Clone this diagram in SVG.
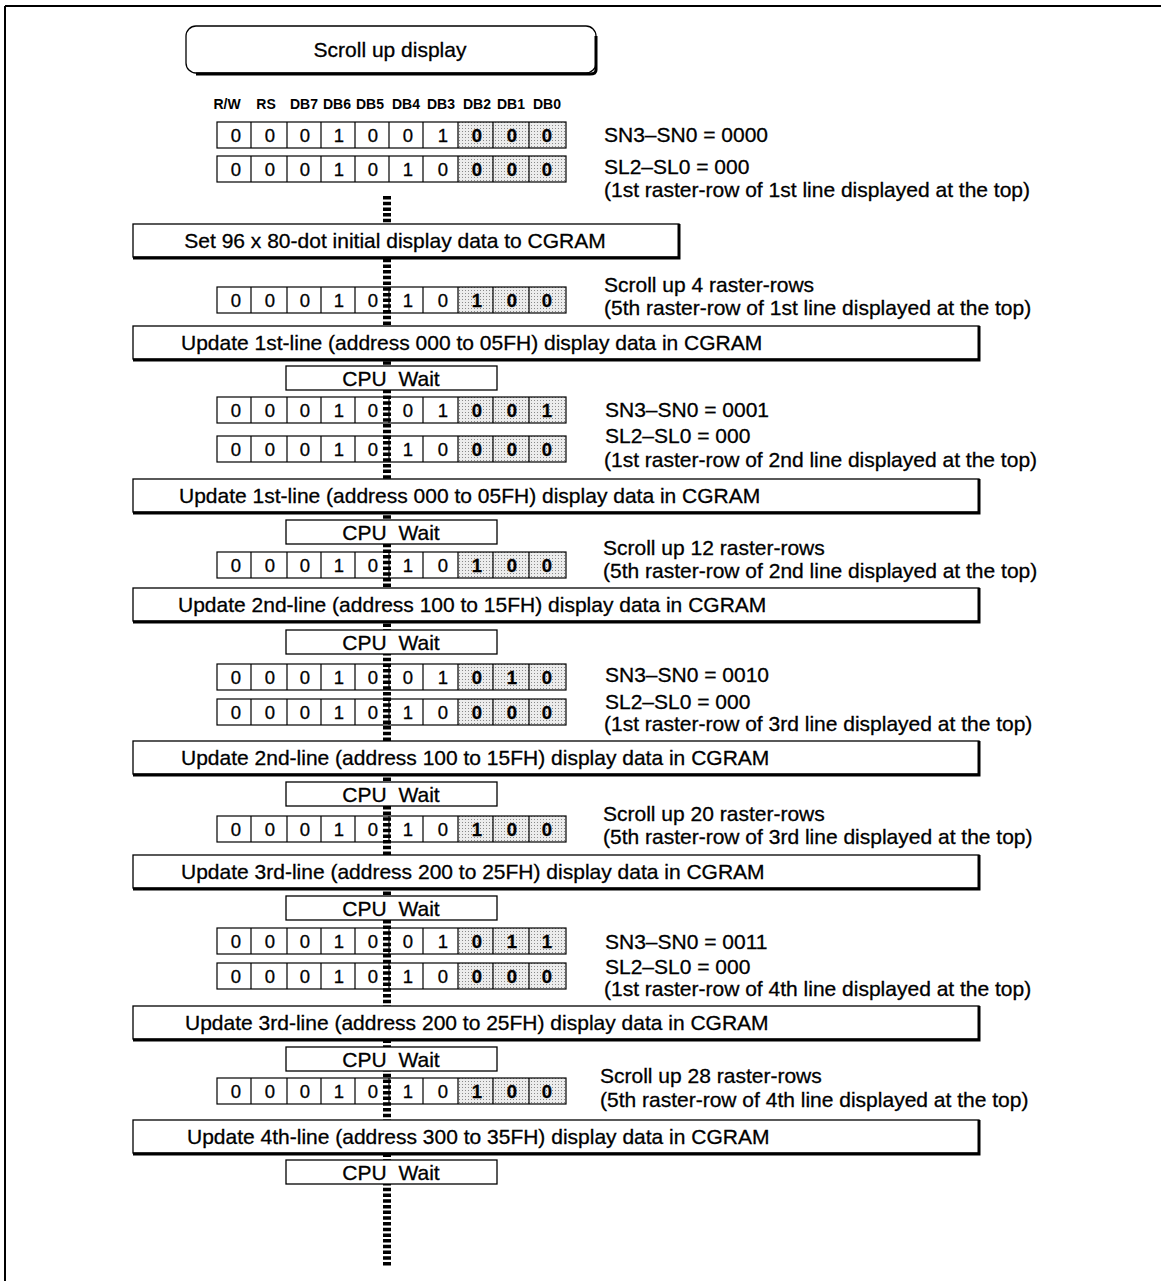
<svg xmlns="http://www.w3.org/2000/svg" width="1161" height="1281" viewBox="0 0 1161 1281">
<style>
text{font-family:"Liberation Sans",Arial,sans-serif;fill:#000;stroke:#000;stroke-width:0.3}
.t{font-size:21px}
.r{font-size:21px}
.h{font-size:14px;font-weight:bold;text-anchor:middle;stroke-width:0}
.d{font-size:18.5px;text-anchor:middle}
.b{font-size:18.5px;text-anchor:middle;font-weight:bold}
.c{font-size:21px;text-anchor:middle;word-spacing:6px}
.box{fill:#fff;stroke:#000;stroke-width:1.3}
.sh{stroke:#000;stroke-width:3;fill:none}
.gl{stroke:#000;stroke-width:1.2;fill:none}
</style>
<defs>
<pattern id="dots" width="3" height="3" patternUnits="userSpaceOnUse">
<rect width="3" height="3" fill="#ececec"/>
<rect width="1" height="1" fill="#8a8a8a"/>
</pattern>
<g id="grid">
<rect x="458" y="0" width="108" height="26" fill="url(#dots)"/>
<rect x="217" y="0" width="349" height="26" class="gl"/>
<path class="gl" d="M251 0V26M287 0V26M321 0V26M355 0V26M389 0V26M423 0V26M458 0V26M493 0V26M529 0V26"/>
</g>
</defs>

<g id="frame">
<path d="M5 6H1161M5 6V1281" stroke="#000" stroke-width="2" fill="none"/>
</g>

<g id="start">
<rect x="186" y="26" width="410" height="47" rx="10" class="box"/>
<path d="M596 36V70Q596 74 590 74H196" class="sh"/>
<text x="390" y="57" class="t" text-anchor="middle">Scroll up display</text>
</g>

<g id="header">
<text x="227" y="109" class="h">R/W</text>
<text x="266" y="109" class="h">RS</text>
<text x="304" y="109" class="h">DB7</text>
<text x="337" y="109" class="h">DB6</text>
<text x="370" y="109" class="h">DB5</text>
<text x="406" y="109" class="h">DB4</text>
<text x="441" y="109" class="h">DB3</text>
<text x="477" y="109" class="h">DB2</text>
<text x="511" y="109" class="h">DB1</text>
<text x="547" y="109" class="h">DB0</text>
</g>

<g id="row1" transform="translate(0,122)"><use href="#grid"/>
<text x="236" y="20" class="d">0</text><text x="270" y="20" class="d">0</text><text x="305" y="20" class="d">0</text><text x="339" y="20" class="d">1</text><text x="373" y="20" class="d">0</text><text x="408" y="20" class="d">0</text><text x="443" y="20" class="d">1</text><text x="477" y="20" class="b">0</text><text x="512" y="20" class="b">0</text><text x="547" y="20" class="b">0</text></g>
<g id="row2" transform="translate(0,156)"><use href="#grid"/>
<text x="236" y="20" class="d">0</text><text x="270" y="20" class="d">0</text><text x="305" y="20" class="d">0</text><text x="339" y="20" class="d">1</text><text x="373" y="20" class="d">0</text><text x="408" y="20" class="d">1</text><text x="443" y="20" class="d">0</text><text x="477" y="20" class="b">0</text><text x="512" y="20" class="b">0</text><text x="547" y="20" class="b">0</text></g>
<g id="row3" transform="translate(0,287)"><use href="#grid"/>
<text x="236" y="20" class="d">0</text><text x="270" y="20" class="d">0</text><text x="305" y="20" class="d">0</text><text x="339" y="20" class="d">1</text><text x="373" y="20" class="d">0</text><text x="408" y="20" class="d">1</text><text x="443" y="20" class="d">0</text><text x="477" y="20" class="b">1</text><text x="512" y="20" class="b">0</text><text x="547" y="20" class="b">0</text></g>
<g id="row4" transform="translate(0,397)"><use href="#grid"/>
<text x="236" y="20" class="d">0</text><text x="270" y="20" class="d">0</text><text x="305" y="20" class="d">0</text><text x="339" y="20" class="d">1</text><text x="373" y="20" class="d">0</text><text x="408" y="20" class="d">0</text><text x="443" y="20" class="d">1</text><text x="477" y="20" class="b">0</text><text x="512" y="20" class="b">0</text><text x="547" y="20" class="b">1</text></g>
<g id="row5" transform="translate(0,436)"><use href="#grid"/>
<text x="236" y="20" class="d">0</text><text x="270" y="20" class="d">0</text><text x="305" y="20" class="d">0</text><text x="339" y="20" class="d">1</text><text x="373" y="20" class="d">0</text><text x="408" y="20" class="d">1</text><text x="443" y="20" class="d">0</text><text x="477" y="20" class="b">0</text><text x="512" y="20" class="b">0</text><text x="547" y="20" class="b">0</text></g>
<g id="row6" transform="translate(0,552)"><use href="#grid"/>
<text x="236" y="20" class="d">0</text><text x="270" y="20" class="d">0</text><text x="305" y="20" class="d">0</text><text x="339" y="20" class="d">1</text><text x="373" y="20" class="d">0</text><text x="408" y="20" class="d">1</text><text x="443" y="20" class="d">0</text><text x="477" y="20" class="b">1</text><text x="512" y="20" class="b">0</text><text x="547" y="20" class="b">0</text></g>
<g id="row7" transform="translate(0,664)"><use href="#grid"/>
<text x="236" y="20" class="d">0</text><text x="270" y="20" class="d">0</text><text x="305" y="20" class="d">0</text><text x="339" y="20" class="d">1</text><text x="373" y="20" class="d">0</text><text x="408" y="20" class="d">0</text><text x="443" y="20" class="d">1</text><text x="477" y="20" class="b">0</text><text x="512" y="20" class="b">1</text><text x="547" y="20" class="b">0</text></g>
<g id="row8" transform="translate(0,699)"><use href="#grid"/>
<text x="236" y="20" class="d">0</text><text x="270" y="20" class="d">0</text><text x="305" y="20" class="d">0</text><text x="339" y="20" class="d">1</text><text x="373" y="20" class="d">0</text><text x="408" y="20" class="d">1</text><text x="443" y="20" class="d">0</text><text x="477" y="20" class="b">0</text><text x="512" y="20" class="b">0</text><text x="547" y="20" class="b">0</text></g>
<g id="row9" transform="translate(0,816)"><use href="#grid"/>
<text x="236" y="20" class="d">0</text><text x="270" y="20" class="d">0</text><text x="305" y="20" class="d">0</text><text x="339" y="20" class="d">1</text><text x="373" y="20" class="d">0</text><text x="408" y="20" class="d">1</text><text x="443" y="20" class="d">0</text><text x="477" y="20" class="b">1</text><text x="512" y="20" class="b">0</text><text x="547" y="20" class="b">0</text></g>
<g id="row10" transform="translate(0,928)"><use href="#grid"/>
<text x="236" y="20" class="d">0</text><text x="270" y="20" class="d">0</text><text x="305" y="20" class="d">0</text><text x="339" y="20" class="d">1</text><text x="373" y="20" class="d">0</text><text x="408" y="20" class="d">0</text><text x="443" y="20" class="d">1</text><text x="477" y="20" class="b">0</text><text x="512" y="20" class="b">1</text><text x="547" y="20" class="b">1</text></g>
<g id="row11" transform="translate(0,963)"><use href="#grid"/>
<text x="236" y="20" class="d">0</text><text x="270" y="20" class="d">0</text><text x="305" y="20" class="d">0</text><text x="339" y="20" class="d">1</text><text x="373" y="20" class="d">0</text><text x="408" y="20" class="d">1</text><text x="443" y="20" class="d">0</text><text x="477" y="20" class="b">0</text><text x="512" y="20" class="b">0</text><text x="547" y="20" class="b">0</text></g>
<g id="row12" transform="translate(0,1078)"><use href="#grid"/>
<text x="236" y="20" class="d">0</text><text x="270" y="20" class="d">0</text><text x="305" y="20" class="d">0</text><text x="339" y="20" class="d">1</text><text x="373" y="20" class="d">0</text><text x="408" y="20" class="d">1</text><text x="443" y="20" class="d">0</text><text x="477" y="20" class="b">1</text><text x="512" y="20" class="b">0</text><text x="547" y="20" class="b">0</text></g>

<g id="notes">
<text x="604" y="142" class="r">SN3–SN0 = 0000</text>
<text x="604" y="174" class="r">SL2–SL0 = 000</text>
<text x="604" y="197" class="r">(1st raster-row of 1st line displayed at the top)</text>
<text x="604" y="292" class="r">Scroll up 4 raster-rows</text>
<text x="604" y="315" class="r">(5th raster-row of 1st line displayed at the top)</text>
<text x="605" y="417" class="r">SN3–SN0 = 0001</text>
<text x="605" y="443" class="r">SL2–SL0 = 000</text>
<text x="604" y="467" class="r">(1st raster-row of 2nd line displayed at the top)</text>
<text x="603" y="555" class="r">Scroll up 12 raster-rows</text>
<text x="603" y="578" class="r">(5th raster-row of 2nd line displayed at the top)</text>
<text x="605" y="682" class="r">SN3–SN0 = 0010</text>
<text x="605" y="709" class="r">SL2–SL0 = 000</text>
<text x="604" y="731" class="r">(1st raster-row of 3rd line displayed at the top)</text>
<text x="603" y="821" class="r">Scroll up 20 raster-rows</text>
<text x="603" y="844" class="r">(5th raster-row of 3rd line displayed at the top)</text>
<text x="605" y="949" class="r">SN3–SN0 = 0011</text>
<text x="605" y="974" class="r">SL2–SL0 = 000</text>
<text x="604" y="996" class="r">(1st raster-row of 4th line displayed at the top)</text>
<text x="600" y="1083" class="r">Scroll up 28 raster-rows</text>
<text x="600" y="1107" class="r">(5th raster-row of 4th line displayed at the top)</text>
</g>

<g id="connectors">
<path d="M387 196V1266" stroke="#000" stroke-width="8" stroke-dasharray="3.5 2.2" fill="none"/>
</g>

<g id="set-init">
<rect x="133" y="224" width="546" height="33" class="box"/>
<path d="M679 224V258H133" class="sh"/>
<text x="395" y="248" class="t" text-anchor="middle">Set 96 x 80-dot initial display data to CGRAM</text>
</g>

<g id="upd1a">
<rect x="133" y="326" width="846" height="33" class="box"/>
<path d="M979 326V360H133" class="sh"/>
<text x="181" y="350" class="t">Update 1st-line (address 000 to 05FH) display data in CGRAM</text>
</g>
<g id="wait1"><rect x="286" y="366" width="211" height="24" class="box"/><text x="391" y="386" class="c">CPU Wait</text></g>

<g id="upd1b">
<rect x="133" y="479" width="846" height="33" class="box"/>
<path d="M979 479V513H133" class="sh"/>
<text x="179" y="503" class="t">Update 1st-line (address 000 to 05FH) display data in CGRAM</text>
</g>
<g id="wait2"><rect x="286" y="520" width="211" height="24" class="box"/><text x="391" y="540" class="c">CPU Wait</text></g>

<g id="upd2a">
<rect x="133" y="588" width="846" height="33" class="box"/>
<path d="M979 588V622H133" class="sh"/>
<text x="178" y="612" class="t">Update 2nd-line (address 100 to 15FH) display data in CGRAM</text>
</g>
<g id="wait3"><rect x="286" y="630" width="211" height="24" class="box"/><text x="391" y="650" class="c">CPU Wait</text></g>

<g id="upd2b">
<rect x="133" y="741" width="846" height="33" class="box"/>
<path d="M979 741V775H133" class="sh"/>
<text x="181" y="765" class="t">Update 2nd-line (address 100 to 15FH) display data in CGRAM</text>
</g>
<g id="wait4"><rect x="286" y="782" width="211" height="24" class="box"/><text x="391" y="802" class="c">CPU Wait</text></g>

<g id="upd3a">
<rect x="133" y="855" width="846" height="33" class="box"/>
<path d="M979 855V889H133" class="sh"/>
<text x="181" y="879" class="t">Update 3rd-line (address 200 to 25FH) display data in CGRAM</text>
</g>
<g id="wait5"><rect x="286" y="896" width="211" height="24" class="box"/><text x="391" y="916" class="c">CPU Wait</text></g>

<g id="upd3b">
<rect x="133" y="1006" width="846" height="33" class="box"/>
<path d="M979 1006V1040H133" class="sh"/>
<text x="185" y="1030" class="t">Update 3rd-line (address 200 to 25FH) display data in CGRAM</text>
</g>
<g id="wait6"><rect x="286" y="1047" width="211" height="24" class="box"/><text x="391" y="1067" class="c">CPU Wait</text></g>

<g id="upd4">
<rect x="133" y="1120" width="846" height="33" class="box"/>
<path d="M979 1120V1154H133" class="sh"/>
<text x="187" y="1144" class="t">Update 4th-line (address 300 to 35FH) display data in CGRAM</text>
</g>
<g id="wait7"><rect x="286" y="1160" width="211" height="24" class="box"/><text x="391" y="1180" class="c">CPU Wait</text></g>
</svg>
